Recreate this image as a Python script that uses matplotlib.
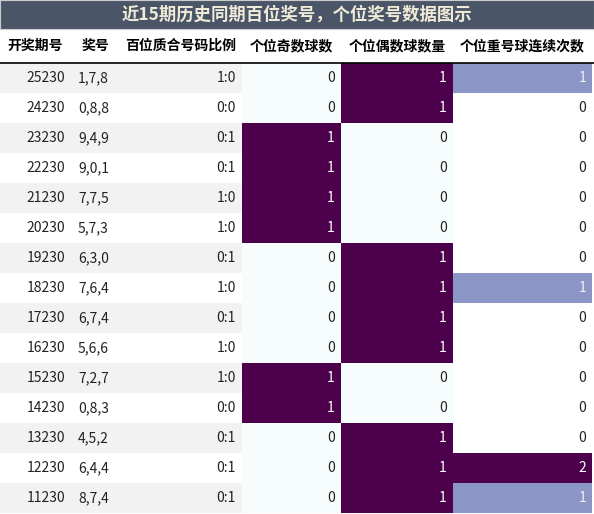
import matplotlib
matplotlib.use("Agg")
import matplotlib.pyplot as plt
from matplotlib.patches import Rectangle

plt.rcParams['font.family'] = ['Noto Sans CJK SC', 'DejaVu Sans']

title = "近15期历史同期百位奖号，个位奖号数据图示"
headers = ["开奖期号", "奖号", "百位质合号码比例", "个位奇数球数", "个位偶数球数量", "个位重号球连续次数"]
periods = ["25230","24230","23230","22230","21230","20230","19230","18230","17230","16230","15230","14230","13230","12230","11230"]
numbers = ["1,7,8","0,8,8","9,4,9","9,0,1","7,7,5","5,7,3","6,3,0","7,6,4","6,7,4","5,6,6","7,2,7","0,8,3","4,5,2","6,4,4","8,7,4"]
ratios = ["1:0","0:0","0:1","0:1","1:0","1:0","0:1","1:0","0:1","1:0","1:0","0:0","0:1","0:1","0:1"]
odd = [0,0,1,1,1,1,0,0,0,0,1,1,0,0,0]
even = [1,1,0,0,0,0,1,1,1,1,0,0,1,1,1]
repeat = [1,0,0,0,0,0,0,1,0,0,0,0,0,2,1]

W, H = 594, 514
fig = plt.figure(figsize=(W/100, H/100), dpi=100)
ax = fig.add_axes([0, 0, 1, 1])
ax.set_xlim(0, W); ax.set_ylim(H, 0); ax.axis('off')

cols = [0, 70, 120, 242, 341, 453, 592]
ax.add_patch(Rectangle((0, 0), W, 29, facecolor='#4a5668', edgecolor='#cccccc', lw=0.8))
ax.text(W/2, 15, title, ha='center', va='center', fontsize=12.5, color='#f0ead8', fontweight='bold')
hy = 46
for i, h in enumerate(headers):
    ax.text((cols[i]+cols[i+1])/2, hy, h, ha='center', va='center', fontsize=10, fontweight='bold', color='black')
ax.plot([0, W], [62.5, 62.5], color='black', lw=1.2)

def cmap(v):
    return {0: '#f7fcfd', 1: '#4d004b'}[v]
def cmap_r(v):
    return {0: '#ffffff', 1: '#8c96c6', 2: '#4d004b'}[v]

y0, rh = 63, 30
for r in range(len(periods)):
    y = y0 + r*rh
    bg = '#f2f2f2' if r % 2 == 0 else '#ffffff'
    ax.add_patch(Rectangle((0, y), cols[3], rh, facecolor=bg, lw=0))
    cy = y + rh/2
    ax.text(cols[1]-5, cy, periods[r], ha='right', va='center', fontsize=10, color='#222222')
    ax.text(cols[1]+8, cy, numbers[r], ha='left', va='center', fontsize=10, color='#222222')
    ax.text(cols[3]-6, cy, ratios[r], ha='right', va='center', fontsize=10, color='#222222')
    for ci, v, f in [(3, odd[r], cmap), (4, even[r], cmap), (5, repeat[r], cmap_r)]:
        c = f(v)
        ax.add_patch(Rectangle((cols[ci], y), cols[ci+1]-cols[ci], rh, facecolor=c, lw=0))
        tc = 'white' if v >= 1 else '#222222'
        if ci == 5 and v == 1:
            tc = '#f0f0f0'
        ax.text(cols[ci+1]-6, cy, str(v), ha='right', va='center', fontsize=10, color=tc)

fig.savefig('out.png', dpi=100)
